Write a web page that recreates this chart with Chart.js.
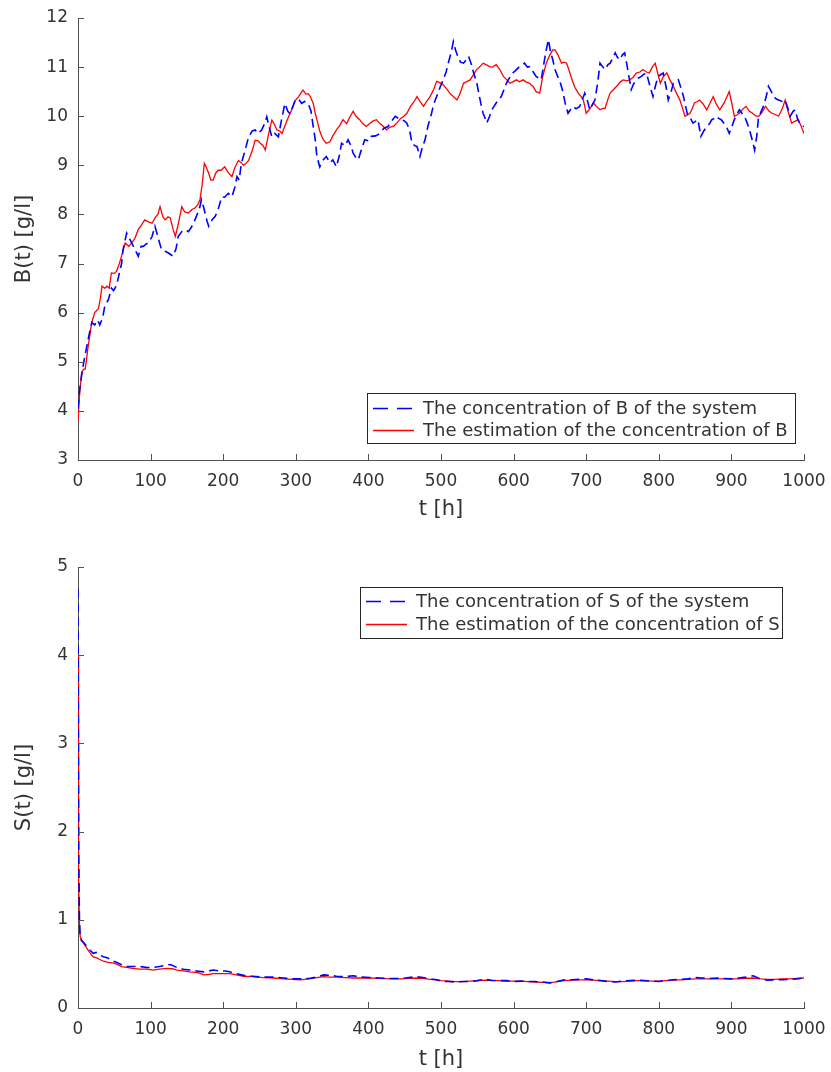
<!DOCTYPE html>
<html>
<head>
<meta charset="utf-8">
<script src="https://cdn.jsdelivr.net/npm/chart.js@4"></script>
<style>
  body { margin: 0; background: #fff; }
  canvas { display: block; }
</style>
</head>
<body>
<canvas id="chartB" width="831" height="536"></canvas>
<canvas id="chartS" width="831" height="536"></canvas>
<script>
// B(t) of the system (blue dashed)
const tBsys = [0,2,5,8,14,19,23,27,30,34,37,42,46,49,53,56,60,62,67,71,74,78,83,87,90,94,97,102,106,110,115,120,124,128,131,135,138,143,148,152,157,160,163,167,170,173,175,178,180,185,189,193,198,202,207,212,216,219,222,225,230,235,240,244,248,253,257,260,263,267,271,276,280,285,289,292,296,299,304,308,312,317,321,324,327,329,333,337,342,347,351,356,360,363,368,372,376,379,383,386,390,395,400,404,410,416,421,427,432,437,442,446,450,453,457,460,464,467,471,474,478,482,487,490,494,499,503,507,510,514,517,520,524,527,531,535,538,542,545,549,552,555,558,561,563,567,570,573,576,580,583,587,590,595,599,604,608,612,615,619,622,627,631,634,638,642,645,648,651,654,657,661,664,667,671,675,679,682,686,691,695,698,702,705,709,712,716,719,723,726,730,733,737,740,743,746,750,753,756,758,762,765,769,772,776,779,783,788,792,795,799,803,806,810,813,817,820,824,827,831,834,837,840,844,847,851,854,856,858,862,866,870,873,876,879,883,886,890,893,897,901,904,908,911,915,918,922,925,929,932,935,937,941,944,948,951,955,958,962,965,970,974,978,981,985,988,991,994,997,1000];
const bSys = [4.05,4.4,4.72,5.0,5.46,5.8,5.75,5.85,5.75,5.9,6.14,6.27,6.5,6.45,6.55,6.74,7.0,7.28,7.62,7.5,7.42,7.3,7.15,7.35,7.35,7.4,7.42,7.55,7.76,7.55,7.28,7.25,7.22,7.18,7.15,7.3,7.55,7.65,7.69,7.65,7.76,7.85,7.96,8.1,8.3,8.15,8.03,7.85,7.76,7.9,7.96,8.1,8.36,8.35,8.43,8.36,8.55,8.77,8.7,9.04,9.3,9.58,9.7,9.72,9.65,9.72,9.85,9.99,9.8,9.58,9.65,9.58,9.9,10.26,10.1,10.05,10.2,10.32,10.35,10.26,10.3,10.26,10.1,9.79,9.5,9.18,8.97,9.1,9.18,9.05,9.11,8.97,9.2,9.45,9.4,9.52,9.4,9.25,9.15,9.11,9.3,9.52,9.5,9.59,9.6,9.65,9.75,9.79,9.9,10.0,9.95,9.93,9.9,9.86,9.7,9.45,9.4,9.38,9.18,9.35,9.52,9.8,10.06,10.25,10.4,10.6,10.74,10.9,11.08,11.3,11.52,11.35,11.18,11.1,11.08,11.15,11.22,11.05,10.88,10.7,10.47,10.25,10.06,9.95,9.86,10.0,10.13,10.2,10.27,10.35,10.4,10.55,10.67,10.8,10.88,10.95,11.01,11.05,11.08,11.0,11.01,10.9,10.81,10.78,10.74,11.1,11.35,11.56,11.3,11.15,10.95,10.8,10.7,10.55,10.27,10.06,10.15,10.2,10.15,10.2,10.35,10.47,10.3,10.13,10.25,10.33,10.7,11.08,11.0,10.95,11.05,11.08,11.2,11.29,11.2,11.15,11.25,11.29,11.05,10.88,10.54,10.65,10.74,10.78,10.81,10.85,10.88,10.6,10.4,10.6,10.81,10.85,10.88,10.6,10.33,10.5,10.67,10.7,10.74,10.55,10.4,10.2,10.0,9.95,9.86,9.9,9.93,9.75,9.59,9.7,9.79,9.85,9.93,9.95,10.0,9.95,9.93,9.85,9.79,9.65,9.8,9.93,10.05,10.13,10.05,10.0,9.85,9.72,9.5,9.31,9.6,9.93,10.1,10.2,10.4,10.61,10.5,10.4,10.35,10.33,10.3,10.33,10.15,10.0,10.1,10.13,9.95,9.86,9.8,9.79];

// B(t) estimation (red solid)
const tBest = [0,2,5,8,10,14,19,23,26,28,31,33,37,40,43,46,50,53,57,60,65,70,74,78,83,88,92,97,102,107,110,113,117,120,124,127,131,134,138,143,147,152,157,161,165,168,171,174,177,180,183,186,190,193,197,202,207,212,216,221,225,228,232,235,240,244,248,251,255,258,262,267,270,274,278,281,285,290,295,299,304,307,310,314,317,320,324,327,329,333,336,338,342,347,351,356,360,365,370,375,379,383,388,392,397,402,406,411,416,420,425,430,435,439,444,449,453,458,463,467,471,476,480,485,490,494,499,503,508,512,517,522,526,531,535,540,545,549,553,558,562,567,571,576,581,586,590,595,599,604,608,613,617,622,627,631,636,640,645,650,654,657,661,666,670,673,676,679,684,689,693,696,698,700,705,710,714,719,723,726,730,733,738,742,747,751,756,760,765,769,774,778,783,787,791,795,799,802,806,811,815,820,825,829,833,836,840,843,846,849,853,856,861,866,870,875,879,884,887,890,894,897,900,904,908,911,916,920,925,929,934,938,943,947,952,956,961,965,970,974,978,983,988,992,996,1000];
const bEst = [3.78,4.3,4.78,4.85,4.85,5.32,5.8,6.0,6.05,6.07,6.3,6.54,6.5,6.54,6.5,6.81,6.8,6.84,7.0,7.15,7.42,7.35,7.42,7.5,7.69,7.8,7.89,7.85,7.82,7.95,8.0,8.16,7.95,7.89,7.95,7.93,7.7,7.55,7.8,8.16,8.05,8.03,8.1,8.13,8.2,8.3,8.6,9.04,8.95,8.84,8.7,8.7,8.85,8.9,8.9,8.97,8.85,8.77,8.95,9.1,9.05,9.0,9.05,9.1,9.3,9.51,9.5,9.45,9.4,9.31,9.6,9.92,9.85,9.72,9.7,9.65,9.8,9.99,10.15,10.32,10.4,10.47,10.53,10.45,10.46,10.4,10.26,10.05,9.93,9.7,9.58,9.52,9.45,9.48,9.6,9.72,9.8,9.93,9.85,10.0,10.1,10.0,9.93,9.85,9.79,9.85,9.9,9.93,9.85,9.8,9.72,9.78,9.8,9.86,9.95,10.0,10.06,10.2,10.3,10.4,10.3,10.2,10.3,10.4,10.55,10.71,10.68,10.64,10.55,10.47,10.4,10.33,10.45,10.67,10.7,10.74,10.85,10.95,11.0,11.08,11.05,11.01,11.0,11.05,10.95,10.81,10.75,10.67,10.7,10.74,10.7,10.74,10.7,10.67,10.6,10.5,10.47,10.8,11.08,11.25,11.35,11.35,11.25,11.08,11.1,11.08,10.95,10.81,10.6,10.47,10.4,10.33,10.2,10.06,10.15,10.27,10.2,10.13,10.16,10.16,10.35,10.47,10.55,10.61,10.7,10.74,10.72,10.74,10.8,10.88,10.9,10.95,10.9,10.88,11.0,11.08,10.85,10.67,10.8,10.88,10.75,10.61,10.45,10.33,10.15,10.0,10.03,10.06,10.15,10.27,10.3,10.33,10.25,10.13,10.25,10.4,10.25,10.13,10.2,10.27,10.4,10.5,10.3,10.0,10.03,10.06,10.15,10.2,10.1,10.06,10.0,10.0,10.1,10.2,10.1,10.06,10.03,10.0,10.15,10.33,10.1,9.86,9.9,9.93,9.8,9.65];

// S(t) of the system (blue dashed)
const tSsys = [0,0.5,1,2,3,5,8,12,16,21,25,30,35,40,45,49,55,60,67,75,85,95,104,112,118,122,128,136,145,154,163,173,180,186,195,203,209,218,228,240,255,270,283,295,306,318,329,338,347,356,368,379,390,402,415,430,445,456,466,475,485,494,500,510,520,530,540,550,560,570,580,590,600,610,620,630,640,650,660,670,680,690,700,710,720,730,740,750,760,770,780,790,800,810,820,830,840,850,860,870,880,890,900,910,920,930,940,950,960,970,980,990,1000];
const sSys = [4.75,3.2,1.8,1.0,0.8,0.76,0.74,0.7,0.66,0.62,0.63,0.6,0.58,0.57,0.55,0.53,0.51,0.49,0.47,0.47,0.47,0.46,0.46,0.47,0.48,0.49,0.49,0.46,0.44,0.43,0.42,0.41,0.42,0.43,0.42,0.42,0.41,0.39,0.37,0.36,0.35,0.35,0.34,0.33,0.33,0.335,0.35,0.375,0.37,0.36,0.355,0.365,0.35,0.345,0.34,0.335,0.335,0.345,0.355,0.345,0.33,0.32,0.305,0.3,0.295,0.3,0.3,0.31,0.325,0.315,0.31,0.31,0.3,0.305,0.3,0.3,0.295,0.285,0.3,0.32,0.32,0.325,0.33,0.32,0.31,0.3,0.295,0.305,0.31,0.315,0.31,0.305,0.3,0.31,0.32,0.325,0.33,0.345,0.34,0.335,0.34,0.335,0.33,0.34,0.35,0.365,0.33,0.315,0.32,0.32,0.325,0.33,0.34];

// S(t) estimation (red solid)
const tSest = [0,0.5,1,2,3,5,8,12,16,21,25,30,35,40,49,55,60,67,75,85,95,104,112,122,130,136,145,154,165,173,180,186,195,209,218,228,240,255,270,283,295,306,318,329,338,347,356,368,379,390,402,415,430,445,456,466,475,485,494,500,510,520,530,540,550,560,570,580,590,600,610,620,630,640,650,660,670,680,690,700,710,720,730,740,750,760,770,780,790,800,810,820,830,840,850,860,870,880,890,900,910,920,930,940,950,960,970,980,990,1000];
const sEst = [4.0,2.6,1.5,0.95,0.81,0.77,0.73,0.68,0.63,0.58,0.57,0.55,0.53,0.52,0.51,0.49,0.47,0.46,0.45,0.44,0.44,0.43,0.44,0.45,0.445,0.43,0.42,0.41,0.4,0.375,0.38,0.39,0.39,0.39,0.375,0.36,0.355,0.345,0.34,0.33,0.325,0.32,0.33,0.345,0.355,0.35,0.35,0.345,0.34,0.34,0.34,0.335,0.33,0.33,0.335,0.34,0.335,0.325,0.32,0.31,0.305,0.3,0.3,0.305,0.31,0.315,0.31,0.31,0.305,0.305,0.305,0.3,0.295,0.29,0.285,0.3,0.31,0.315,0.32,0.32,0.315,0.31,0.305,0.3,0.3,0.305,0.31,0.31,0.305,0.305,0.31,0.315,0.32,0.325,0.33,0.33,0.33,0.33,0.33,0.33,0.33,0.335,0.34,0.33,0.325,0.325,0.33,0.33,0.335,0.34];

const xTicks = [0, 100, 200, 300, 400, 500, 600, 700, 800, 900, 1000];

const FONT = "'DejaVu Sans', sans-serif";
const AXIS = '#505050';
const TEXT = '#333333';
const BLUE = '#0000ff';
const RED = '#ff0000';

function pts(ts, vs) {
  return ts.map((t, i) => ({ x: t, y: vs[i] }));
}

// MATLAB style ticks pointing into the axes
const innerTicks = {
  id: 'innerTicks',
  afterDraw(chart) {
    const ctx = chart.ctx;
    const x = chart.scales.x, y = chart.scales.y;
    const area = chart.chartArea;
    ctx.save();
    ctx.strokeStyle = AXIS;
    ctx.lineWidth = 1;
    ctx.beginPath();
    x.ticks.forEach(t => {
      const px = Math.round(x.getPixelForValue(t.value)) + 0.5;
      ctx.moveTo(px, area.bottom);
      ctx.lineTo(px, area.bottom - 6);
    });
    y.ticks.forEach(t => {
      const py = Math.round(y.getPixelForValue(t.value)) + 0.5;
      ctx.moveTo(area.left, py);
      ctx.lineTo(area.left + 6, py);
    });
    ctx.stroke();
    ctx.restore();
  }
};

// legend box placed inside the axes like MATLAB's
const boxLegend = {
  id: 'boxLegend',
  afterDraw(chart, args, opts) {
    if (!opts.labels) return;
    const ctx = chart.ctx;
    ctx.save();
    ctx.fillStyle = '#fff';
    ctx.fillRect(opts.left, opts.top, opts.width, opts.height);
    ctx.strokeStyle = '#262626';
    ctx.lineWidth = 1;
    ctx.strokeRect(opts.left + 0.5, opts.top + 0.5, opts.width, opts.height);
    ctx.font = opts.fontSize + 'px ' + FONT;
    ctx.textBaseline = 'middle';
    chart.data.datasets.forEach((ds, i) => {
      const yy = opts.top + opts.rowStart + i * opts.rowGap;
      ctx.strokeStyle = ds.borderColor;
      ctx.lineWidth = 1.5;
      ctx.setLineDash(ds.borderDash ? [15, 9] : []);
      ctx.beginPath();
      ctx.moveTo(opts.left + 6, yy + 0.5);
      ctx.lineTo(opts.left + 47, yy + 0.5);
      ctx.stroke();
      ctx.setLineDash([]);
      ctx.fillStyle = TEXT;
      ctx.fillText(opts.labels[i], opts.left + 56, yy + 1);
    });
    ctx.restore();
  }
};

function makeChart(id, cfg) {
  return new Chart(document.getElementById(id), {
    type: 'line',
    data: {
      datasets: [
        { data: cfg.sys, borderColor: BLUE, borderWidth: 1.6, borderDash: [9, 5], pointRadius: 0, tension: 0 },
        { data: cfg.est, borderColor: RED, borderWidth: 1.3, pointRadius: 0, tension: 0 }
      ]
    },
    options: {
      responsive: false,
      animation: false,
      events: [],
      layout: { padding: cfg.padding },
      plugins: {
        legend: { display: false },
        tooltip: { enabled: false },
        boxLegend: cfg.legend
      },
      scales: {
        x: {
          type: 'linear', min: 0, max: 1000,
          afterBuildTicks: s => { s.ticks = xTicks.map(v => ({ value: v })); },
          afterFit: s => { s.height = cfg.xHeight; s.paddingLeft = 0; s.paddingRight = 0; },
          grid: { display: true, drawOnChartArea: false, drawTicks: false },
          border: { display: true, color: AXIS, width: 1 },
          ticks: { color: TEXT, padding: 11, maxRotation: 0, font: { family: FONT, size: 17 }, callback: v => String(v) },
          title: { display: true, text: 't [h]', color: TEXT, font: { family: FONT, size: 21 }, padding: { bottom: cfg.xTitlePad } }
        },
        y: {
          min: cfg.yMin, max: cfg.yMax,
          afterBuildTicks: s => { s.ticks = cfg.yTicks.map(v => ({ value: v })); },
          afterFit: s => { s.width = 78; s.paddingTop = 0; s.paddingBottom = 0; },
          grid: { display: true, drawOnChartArea: false, drawTicks: false },
          border: { display: true, color: AXIS, width: 1 },
          ticks: { color: TEXT, padding: 10, font: { family: FONT, size: 17 }, callback: v => String(v) },
          title: { display: true, text: cfg.yTitle, color: TEXT, font: { family: FONT, size: 21 }, padding: { top: 12 } }
        }
      }
    },
    plugins: [innerTicks, boxLegend]
  });
}

makeChart('chartB', {
  sys: pts(tBsys, bSys),
  est: pts(tBest, bEst),
  yMin: 3, yMax: 12,
  yTicks: [3, 4, 5, 6, 7, 8, 9, 10, 11, 12],
  yTitle: 'B(t) [g/l]',
  padding: { top: 18, right: 27, left: 0, bottom: 0 },
  xHeight: 76,
  xTitlePad: 14,
  legend: {
    left: 367, top: 393, width: 428, height: 50, rowStart: 15, rowGap: 22, fontSize: 18,
    labels: ['The concentration of B of the system', 'The estimation of the concentration of B']
  }
});

makeChart('chartS', {
  sys: pts(tSsys, sSys),
  est: pts(tSest, sEst),
  yMin: 0, yMax: 5,
  yTicks: [0, 1, 2, 3, 4, 5],
  yTitle: 'S(t) [g/l]',
  padding: { top: 31, right: 27, left: 0, bottom: 0 },
  xHeight: 64,
  xTitlePad: 0,
  legend: {
    left: 360, top: 51, width: 422, height: 51, rowStart: 14, rowGap: 23, fontSize: 18,
    labels: ['The concentration of S of the system', 'The estimation of the concentration of S']
  }
});
</script>
</body>
</html>
